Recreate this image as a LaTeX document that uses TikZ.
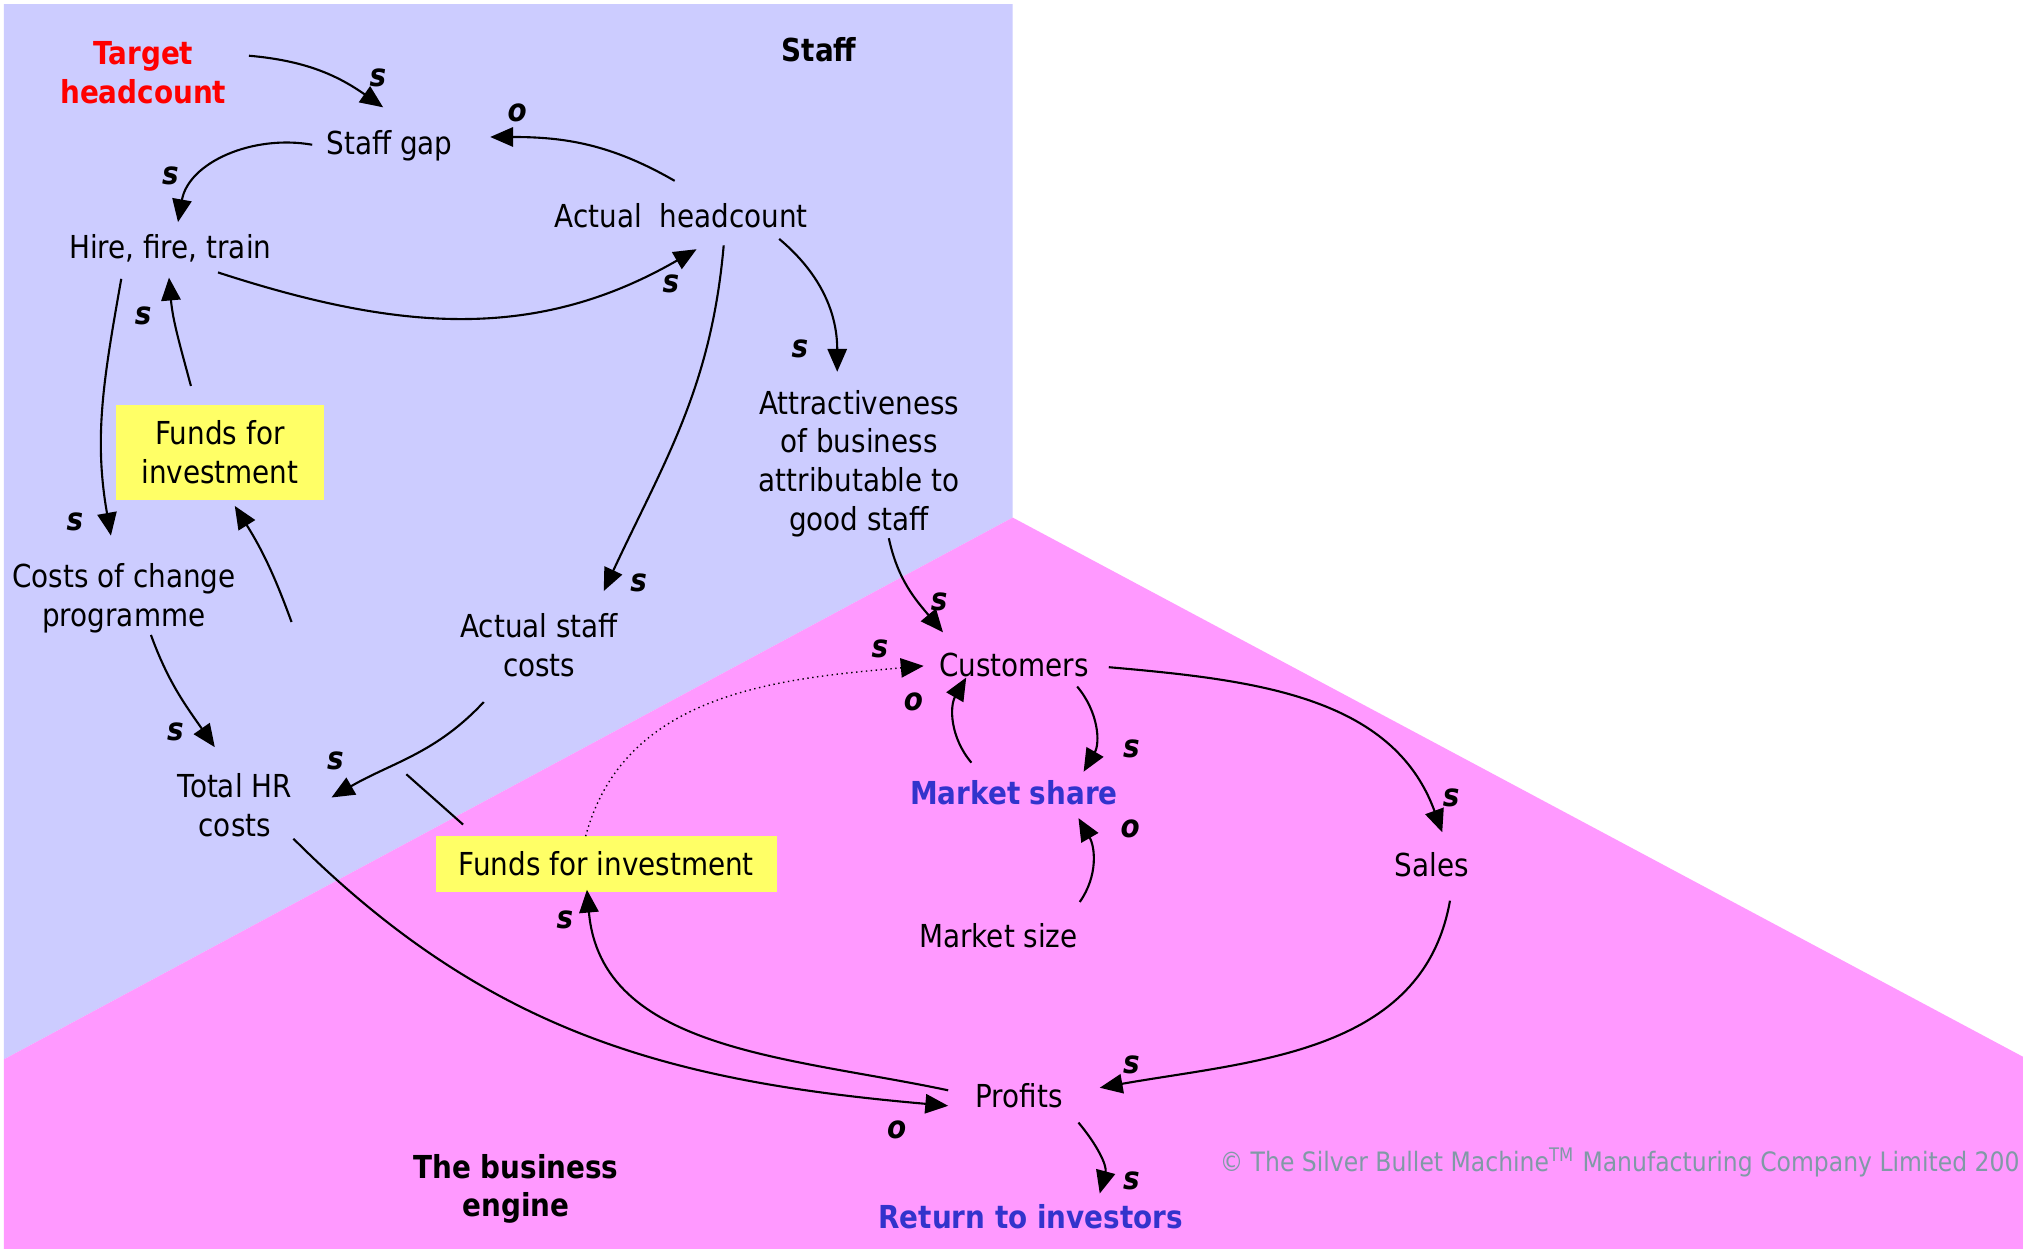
\documentclass[tikz,border=0pt]{standalone}
\usepackage{fontspec}
\setmainfont{DejaVu Sans}[FakeStretch=0.88]
\usetikzlibrary{arrows.meta}
\definecolor{staffbg}{RGB}{204,204,255}
\definecolor{enginebg}{RGB}{255,153,255}
\definecolor{fundyellow}{RGB}{255,255,102}
\definecolor{keyblue}{RGB}{51,51,204}
\definecolor{notegray}{RGB}{128,153,166}
\tikzset{
	var/.style={font=\fontsize{9}{11}\selectfont, align=center, inner sep=1pt},
	heading/.style={var, font=\fontsize{9}{11}\selectfont\bfseries},
	fundbox/.style={var, fill=fundyellow, minimum width=#1},
	sign/.style={font=\fontsize{9}{11}\selectfont\bfseries\itshape, inner sep=0pt},
	link/.style={line width=0.6pt, -{Triangle[length=6.5pt,width=5.5pt]}},
}

\begin{document}
\begin{tikzpicture}[x=1.29cm, y=1.29cm]
			%%%%% START %%%%%
			
			\useasboundingbox (0, 0) rectangle (15.682, 9.682);
			\fill[white] (0, 0) rectangle (15.682, 9.682);
			
			\fill[staffbg] (0.03, 9.65) -- (7.85, 9.65) -- (7.85, 5.67) -- (0.03, 1.47) -- cycle;
			\fill[enginebg] (7.85, 5.67) -- (15.682, 1.49) -- (15.682, 0) -- (0.03, 0) -- (0.03, 1.47) -- cycle;
			
			\node[heading, text=red] (tgt) at (1.11, 9.12) {Target\\headcount};
			\node[heading] (stafftitle) at (6.35, 9.30) {Staff};
			\node[var] (gap) at (3.02, 8.55) {Staff gap};
			\node[var] (hire) at (1.32, 7.76) {Hire, fire, train};
			\node[var] (act) at (5.28, 8.01) {Actual \ headcount};
			\node[var] (attr) at (6.66, 6.09) {Attractiveness\\of business\\attributable to\\good staff};
			\node[fundbox=2.077cm, minimum height=0.942cm] (fund1) at (1.705, 6.175) {Funds for\\investment};
			\node[var] (chg) at (0.96, 5.045) {Costs of change\\programme};
			\node[var] (asc) at (4.18, 4.68) {Actual staff\\costs};
			\node[var] (hr) at (1.82, 3.44) {Total HR\\costs};
			\node[fundbox=3.406cm, minimum height=0.555cm] (fund2) at (4.70, 2.985) {Funds for investment};
			\node[var] (cust) at (7.86, 4.53) {Customers};
			\node[heading, text=keyblue] (share) at (7.86, 3.54) {Market share};
			\node[var] (msize) at (7.74, 2.43) {Market size};
			\node[var] (sales) at (11.10, 2.98) {Sales};
			\node[var] (prof) at (7.90, 1.19) {Profits};
			\node[heading, text=keyblue] (ret) at (7.99, 0.25) {Return to investors};
			\node[heading] (engtitle) at (4.00, 0.465) {The business\\engine};
			\node[anchor=west, inner sep=0pt, text=notegray, font=\fontsize{7.6}{9}\selectfont] (note) at (9.45, 0.67) {\textcopyright{} The Silver Bullet Machine\textsuperscript{TM} Manufacturing Company Limited 200};
			
			\coordinate (fin) at (2.26, 4.86);
			\coordinate (hrx) at (3.15, 3.68);
			
			% staff loop
			\draw[link] ([shift={(0.82,0.13)}]tgt.center) to[out=-5, in=145] ([shift={(-0.05,0.30)}]gap.center);
			\draw[link] ([shift={(-0.05,0.27)}]act.center) to[out=150, in=0] ([shift={(0.78,0.07)}]gap.center);
			\draw[link] ([shift={(-0.60,0.01)}]gap.center) to[out=170, in=80] ([shift={(0.06,0.20)}]hire.center);
			\draw[link] ([shift={(0.37,-0.19)}]hire.center) to[out=-18, in=-150] ([shift={(0.12,-0.26)}]act.center);
			\draw[link] ([shift={(0.76,-0.18)}]act.center) to[out=-40, in=90] ([shift={(-0.17,0.71)}]attr.center);
			\draw[link] ([shift={(0.33,-0.23)}]act.center) to[out=-95, in=65] ([shift={(0.50,0.42)}]asc.center);
			\draw[link] ([shift={(-0.38,-0.24)}]hire.center) to[out=-100, in=100] ([shift={(-0.10,0.485)}]chg.center);
			\draw[link] ([shift={(-0.225,0.515)}]fund1.center) to[out=105, in=-85] ([shift={(-0.01,-0.23)}]hire.center);
			\draw[link] (fin) to[out=110, in=-58] ([shift={(0.115,-0.415)}]fund1.center);
			\draw[link] ([shift={(0.21,-0.285)}]chg.center) to[out=-70, in=125] ([shift={(-0.155,0.45)}]hr.center);
			\draw[link] ([shift={(-0.43,-0.44)}]asc.center) to[out=-133, in=30] ([shift={(0.75,0.06)}]hr.center);
			\draw[line width=0.6pt] (hrx) -- ([shift={(-1.11,0.305)}]fund2.center);
			
			% engine loop
			\draw[link] ([shift={(0.455,-0.26)}]hr.center) to[out=-45, in=175] ([shift={(-0.55,-0.08)}]prof.center);
			\draw[link] ([shift={(-0.55,0.04)}]prof.center) to[out=168, in=-85] ([shift={(-0.15,-0.20)}]fund2.center);
			\draw[link, line width=0.4pt, densely dotted] ([shift={(-0.16,0.215)}]fund2.center) to[out=75, in=-175] ([shift={(-0.70,-0.01)}]cust.center);
			\draw[link] ([shift={(0.23,-0.58)}]attr.center) to[out=-78, in=130] ([shift={(-0.55,0.25)}]cust.center);
			\draw[link] ([shift={(0.49,-0.17)}]cust.center) to[out=-50, in=60] ([shift={(0.54,0.16)}]share.center);
			\draw[link] ([shift={(-0.33,0.23)}]share.center) to[out=130, in=-120] ([shift={(-0.37,-0.10)}]cust.center);
			\draw[link] ([shift={(0.63,0.26)}]msize.center) to[out=55, in=-60] ([shift={(0.50,-0.20)}]share.center);
			\draw[link] ([shift={(0.735,-0.02)}]cust.center) to[out=-5, in=110] ([shift={(0.08,0.25)}]sales.center);
			\draw[link] ([shift={(0.14,-0.28)}]sales.center) to[out=-100, in=10] ([shift={(0.625,0.06)}]prof.center);
			\draw[link] ([shift={(0.46,-0.21)}]prof.center) to[out=-50, in=75] ([shift={(0.535,0.18)}]ret.center);
			
			% signs
			\node[sign] (s1) at (2.93, 9.08) {s};
			\node[sign] (o1) at (4.01, 8.81) {o};
			\node[sign] (s2) at (1.32, 8.32) {s};
			\node[sign] (s3) at (5.20, 7.48) {s};
			\node[sign] (s4) at (6.20, 6.98) {s};
			\node[sign] (s5) at (4.95, 5.16) {s};
			\node[sign] (s6) at (0.58, 5.64) {s};
			\node[sign] (s7) at (1.11, 7.23) {s};
			\node[sign] (s8) at (1.36, 4.01) {s};
			\node[sign] (s9) at (2.60, 3.78) {s};
			\node[sign] (o2) at (6.95, 0.92) {o};
			\node[sign] (s10) at (4.38, 2.55) {s};
			\node[sign] (s11) at (6.82, 4.65) {s};
			\node[sign] (s12) at (7.28, 5.02) {s};
			\node[sign] (s13) at (8.77, 3.88) {s};
			\node[sign] (o3) at (7.08, 4.24) {o};
			\node[sign] (o4) at (8.76, 3.26) {o};
			\node[sign] (s14) at (11.25, 3.50) {s};
			\node[sign] (s15) at (8.77, 1.43) {s};
			\node[sign] (s16) at (8.77, 0.53) {s};
			
			%%%%% END %%%%%
\end{tikzpicture}
\end{document}
